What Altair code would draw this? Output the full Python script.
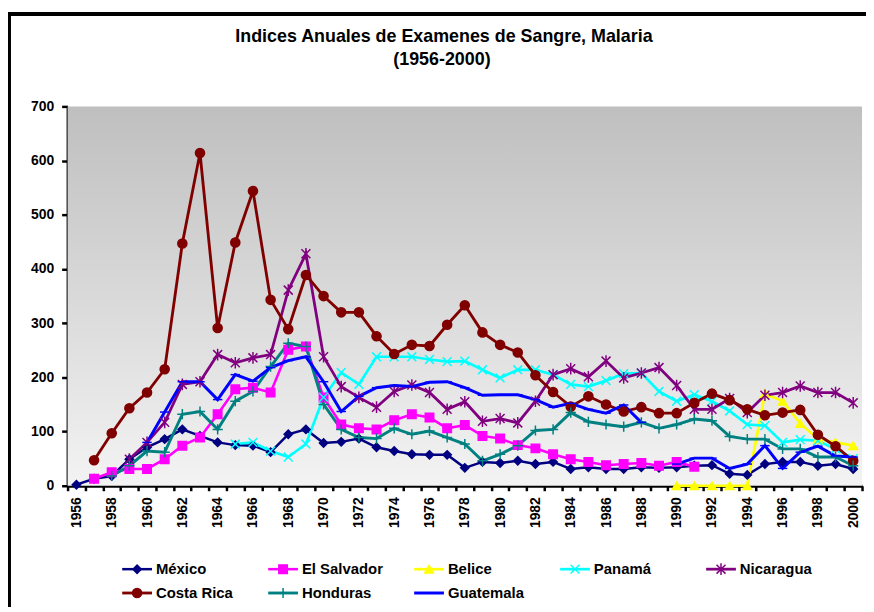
import altair as alt
import pandas as pd

years = list(range(1956, 2001))

title_lines = ["Indices Anuales de Examenes de Sangre, Malaria", "(1956-2000)"]

countries = ["México", "El Salvador", "Belice", "Panamá", "Nicaragua",
             "Costa Rica", "Honduras", "Guatemala"]
colors = ["#000080", "#ff00ff", "#ffff00", "#00ffff", "#800080",
          "#800000", "#008080", "#0000ff"]
shapes = ["diamond", "square", "triangle-up",
          "M-1,-1L1,1M-1,1L1,-1",
          "M-1,-1L1,1M-1,1L1,-1M0,-1.3L0,1.3",
          "circle",
          "M-1.1,0L1.1,0M0,-1.1L0,1.1",
          "M-1,0L1,0"]
marker_sizes = [70, 90, 100, 110, 110, 90, 110, 64]
line_widths = [2.5, 3, 2.5, 4.5, 2.5, 3, 4.5, 2.5]

N = None
mexico = [2, 13, 18, 49, 71, 86, 104, 92, 80, 75, 74, 62, 95, 104, 79, 81, 87, 71, 64, 58,
          57, 57, 33, 44, 42, 46, 40, 44, 31, 34, 31, 31, 34, 33, 34, 37, 38, 22, 20, 40,
          44, 44, 37, 40, 31]
el_salvador = [N, 13, 25, 31, 31, 49, 74, 89, 132, 178, 181, 172, 251, 257, 163, 113, 106, 104, 121, 132,
               126, 106, 112, 92, 87, 75, 69, 58, 49, 44, 38, 40, 42, 37, 44, 35, N, N, N, N,
               N, N, N, N, N]
belice = [N] * 34 + [0, 0, 0, 0, 0, 170, 156, 115, 86, 80, 74]
panama = [N, N, N, N, N, N, N, N, N, 77, 80, 64, 53, 77, 163, 209, 187, 238, 238, 238,
          233, 229, 230, 214, 199, 214, 214, 205, 187, 183, 194, 207, 208, 174, 156, 168, 156, 138, 113, 111,
          80, 85, 83, 68, 50]
nicaragua = [N, N, N, 49, 80, 117, 187, 192, 242, 227, 236, 242, 361, 428, 238, 183, 163, 145, 174, 186,
             172, 141, 155, 119, 124, 116, 156, 205, 216, 201, 230, 199, 208, 218, 185, 141, 141, 161, 135, 167,
             172, 184, 172, 172, 153]
costa_rica = [N, 47, 97, 143, 172, 215, 447, 614, 291, 449, 544, 343, 289, 389, 350, 320, 320, 276, 243, 260,
              258, 297, 333, 283, 260, 246, 204, 173, 146, 165, 150, 137, 145, 134, 134, 153, 170, 158, 141, 130,
              135, 140, 94, 73, 46]
honduras = [N, N, 18, 37, 64, 62, 132, 137, 104, 156, 174, 220, 263, 257, 150, 104, 89, 87, 106, 95,
            101, 89, 77, 46, 58, 74, 102, 104, 135, 118, 113, 109, 117, 106, 113, 123, 120, 91, 86, 86,
            68, 68, 53, 53, 37]
guatemala = [N, N, N, N, 80, 136, 192, 192, 159, 205, 193, 218, 231, 238, 192, 137, 165, 181, 185, 183,
             191, 192, 181, 167, 168, 168, 159, 145, 152, 141, 134, 149, 117, N, 40, 51, 51, 32, 40, 74,
             32, 62, 73, 55, 53]

series = [mexico, el_salvador, belice, panama, nicaragua, costa_rica, honduras, guatemala]

rows = []
for name, vals in zip(countries, series):
    seg = 0
    for yr, v in zip(years, vals):
        if v is None:
            seg += 1
            continue
        rows.append({"country": name, "year": yr, "value": v, "seg": seg})
df = pd.DataFrame(rows)

FONT = "Liberation Sans, Arial, sans-serif"

cscale = alt.Scale(domain=countries, range=colors)
wscale = alt.Scale(domain=countries, range=line_widths)
shscale = alt.Scale(domain=countries, range=shapes)
szscale = alt.Scale(domain=countries, range=marker_sizes)

tick_vals = [y - 0.5 for y in years] + [2000.5]

x_enc = alt.X("year:Q",
              scale=alt.Scale(domain=[1955.5, 2000.5], nice=False, zero=False),
              axis=alt.Axis(values=tick_vals, title=None, grid=False,
                            labelExpr="((datum.value + 0.5) % 2 == 0) ? '' + (datum.value + 0.5) : ''",
                            labelAngle=270, labelOffset=8.9, labelPadding=6,
                            labelFont=FONT, labelFontSize=14, labelFontWeight="bold",
                            labelColor="black", labelOverlap=False, labelBound=False, labelFlush=False,
                            tickSize=5, tickWidth=2.5, tickColor="black",
                            domainColor="black", domainWidth=3))
y_enc = alt.Y("value:Q",
              scale=alt.Scale(domain=[0, 700], nice=False),
              axis=alt.Axis(values=list(range(0, 701, 100)), title=None, grid=False,
                            labelFont=FONT, labelFontSize=14, labelFontWeight="bold",
                            labelColor="black", labelPadding=8,
                            tickSize=6, tickWidth=2.5, tickColor="black",
                            domainColor="black", domainWidth=3))

base = alt.Chart(df)
lines = base.mark_line().encode(
    x=x_enc, y=y_enc,
    color=alt.Color("country:N", scale=cscale, legend=None),
    strokeWidth=alt.StrokeWidth("country:N", scale=wscale, legend=None),
    detail="seg:N",
)
points = base.mark_point(filled=True, strokeWidth=1.5, opacity=1).encode(
    x=x_enc, y=y_enc,
    color=alt.Color("country:N", scale=cscale, legend=None),
    stroke=alt.Stroke("country:N", scale=cscale, legend=None),
    shape=alt.Shape("country:N", scale=shscale, legend=None),
    size=alt.Size("country:N", scale=szscale, legend=None),
)
main = alt.layer(lines, points)

# custom legend below the plot
leg_df = pd.DataFrame({"country": countries,
                       "col": [i % 5 for i in range(len(countries))],
                       "row": [i // 5 for i in range(len(countries))]})
lbase = alt.Chart(leg_df).transform_calculate(
    x0="datum.col", x1="datum.col + 0.204", xm="datum.col + 0.102", xt="datum.col + 0.231")
lxs = alt.Scale(domain=[0, 5], range=[55, 790], nice=False, zero=False)
lys = alt.Scale(domain=[0, 1], range=[466, 490], nice=False, zero=False)
leg_rule = lbase.mark_rule().encode(
    x=alt.X("x0:Q", scale=lxs, axis=None), x2="x1:Q",
    y=alt.Y("row:Q", scale=lys, axis=None),
    color=alt.Color("country:N", scale=cscale, legend=None),
    strokeWidth=alt.StrokeWidth("country:N", scale=wscale, legend=None),
)
leg_pts = lbase.mark_point(filled=True, strokeWidth=1.5, opacity=1).encode(
    x=alt.X("xm:Q", scale=lxs, axis=None),
    y=alt.Y("row:Q", scale=lys, axis=None),
    color=alt.Color("country:N", scale=cscale, legend=None),
    stroke=alt.Stroke("country:N", scale=cscale, legend=None),
    shape=alt.Shape("country:N", scale=shscale, legend=None),
    size=alt.Size("country:N", scale=szscale, legend=None),
)
leg_txt = lbase.mark_text(align="left", baseline="middle", font=FONT, fontSize=15,
                          fontWeight="bold", color="black").encode(
    x=alt.X("xt:Q", scale=lxs, axis=None),
    y=alt.Y("row:Q", scale=lys, axis=None),
    text="country:N",
)
legend = alt.layer(leg_rule, leg_pts, leg_txt)

one = pd.DataFrame({"k": [0]})
gradient = alt.LinearGradient(gradient="linear", x1=0, x2=0, y1=0, y2=1,
                              stops=[alt.GradientStop(offset=0, color="#bfbfbf"),
                                     alt.GradientStop(offset=1, color="#f3f3f3")])
bg = alt.Chart(one).mark_rect(color=gradient).encode(
    x=alt.value(0), x2=alt.value(800), y=alt.value(0), y2=alt.value(382))
frame_top = alt.Chart(one).mark_rule(color="black", strokeWidth=4).encode(
    x=alt.value(-62), x2=alt.value(830), y=alt.value(-93), y2=alt.value(-93))
frame_left = alt.Chart(one).mark_rule(color="black", strokeWidth=4).encode(
    x=alt.value(-59), x2=alt.value(-59), y=alt.value(-95), y2=alt.value(530))

title1 = alt.Chart(one).mark_text(font=FONT, fontSize=18, fontWeight="bold", color="black",
                                  align="center", baseline="alphabetic").encode(
    x=alt.value(379), y=alt.value(-65), text=alt.value(title_lines[0]))
title2 = alt.Chart(one).mark_text(font=FONT, fontSize=18, fontWeight="bold", color="black",
                                  align="center", baseline="alphabetic").encode(
    x=alt.value(377), y=alt.value(-42), text=alt.value(title_lines[1]))

chart = alt.layer(bg, frame_top, frame_left, title1, title2, main, legend).resolve_scale(
    x="independent", y="independent"
).properties(
    width=800, height=382,
    autosize=alt.AutoSizeParams(type="none"),
    padding={"left": 60, "top": 97, "right": 4, "bottom": 120},
    background="white",
).configure_view(strokeWidth=0)

chart.save("out.html", embed_options={"renderer": "svg", "actions": False})
